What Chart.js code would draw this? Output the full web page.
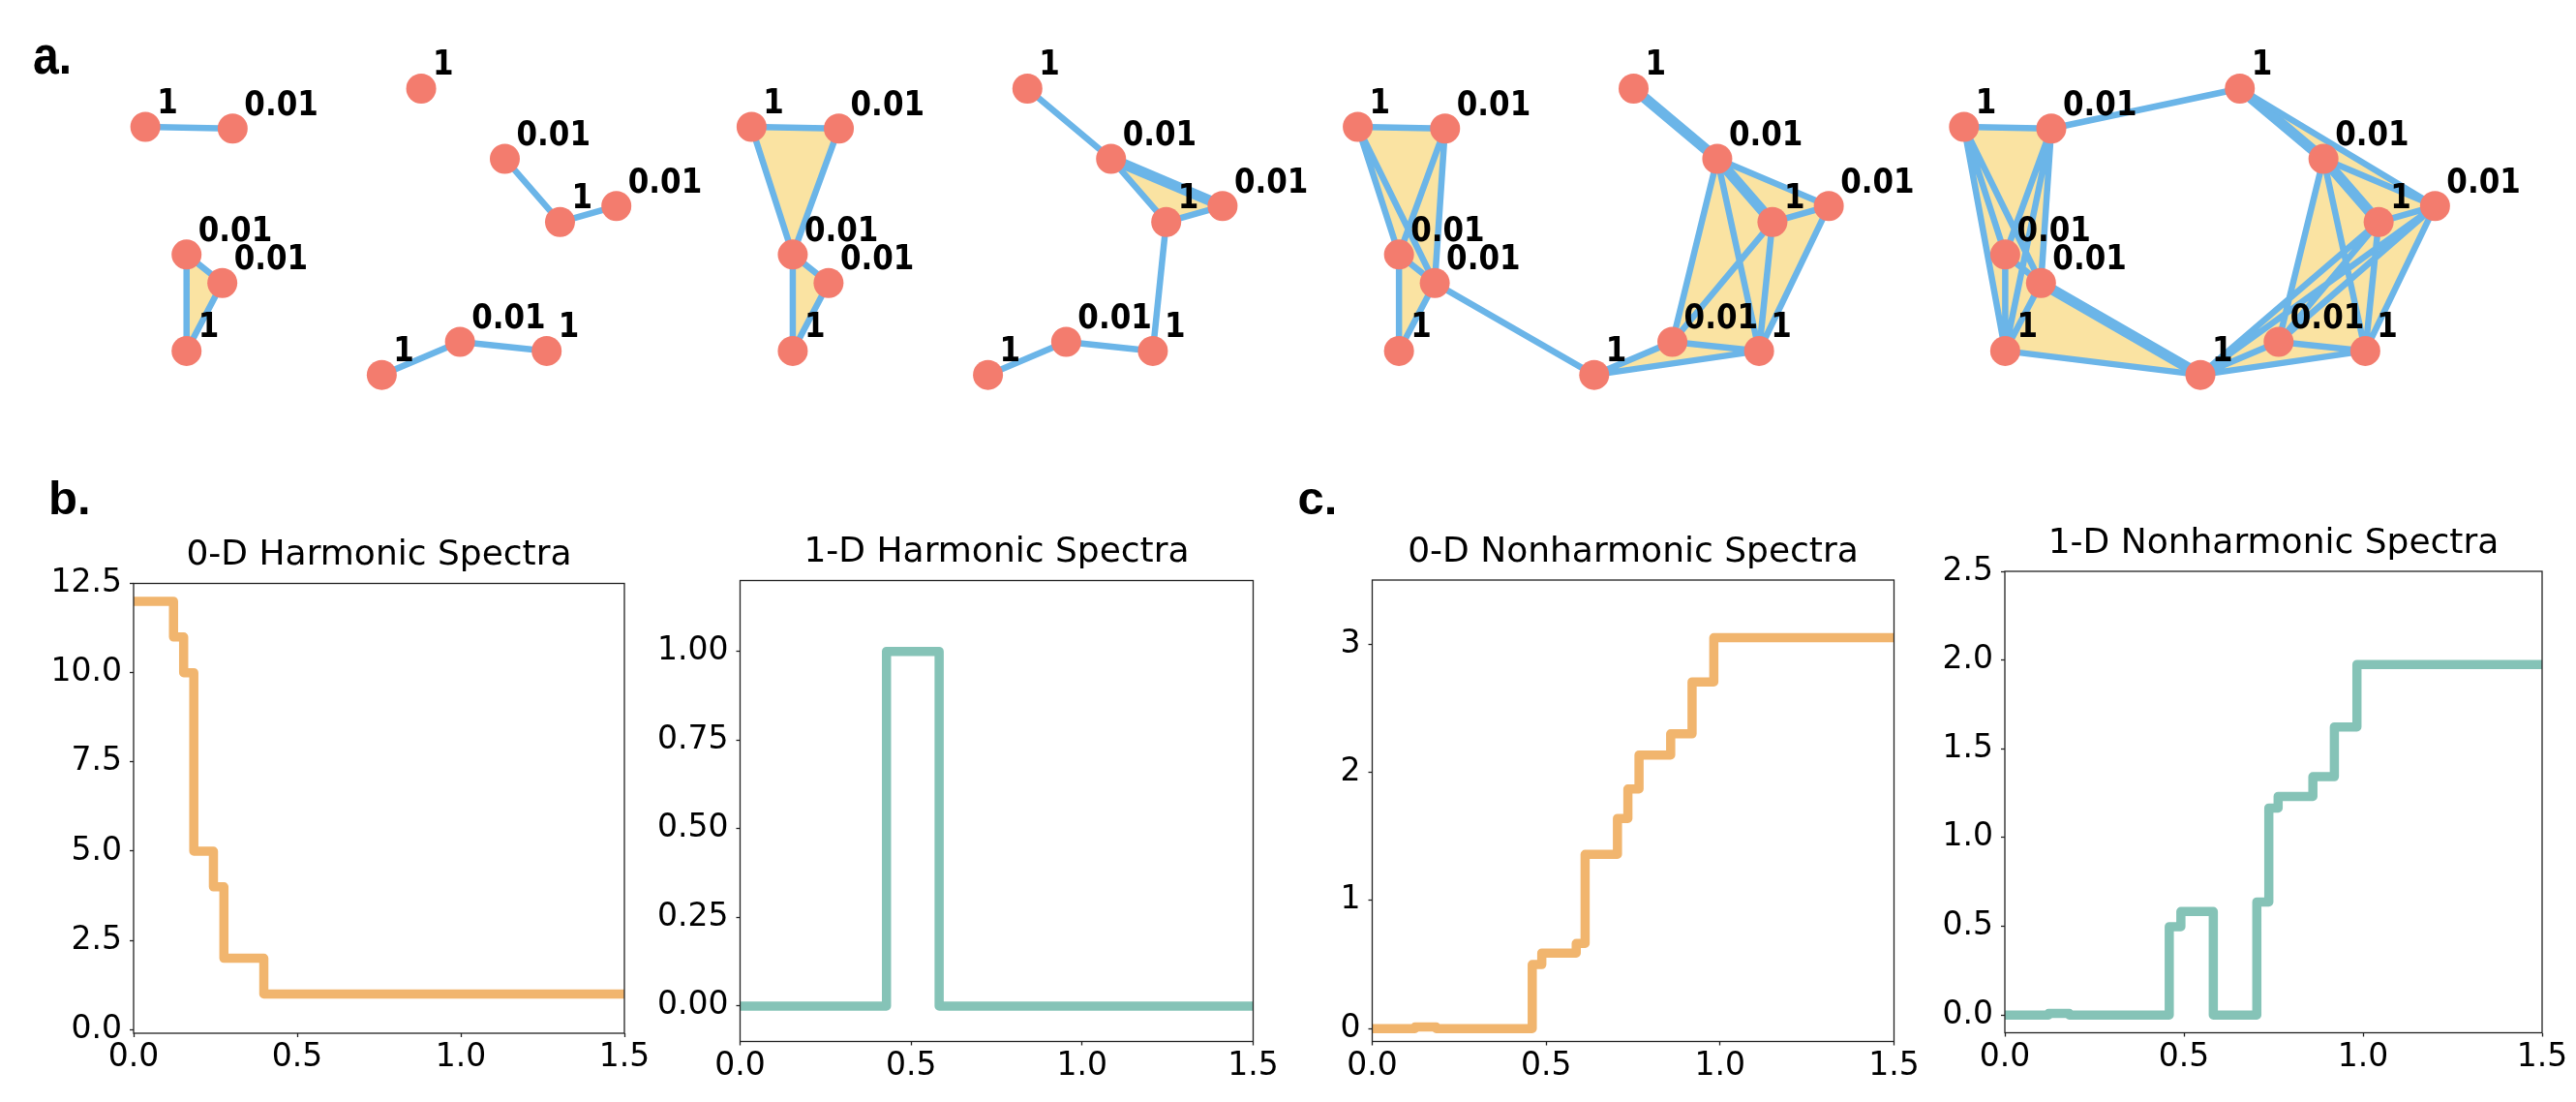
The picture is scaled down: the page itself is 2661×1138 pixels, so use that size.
<!DOCTYPE html>
<html>
<head>
<meta charset="utf-8">
<script src="https://cdn.jsdelivr.net/npm/chart.js@4.4.1/dist/chart.umd.min.js"></script>
<style>
  html, body { margin: 0; padding: 0; background: #fff; }
  #fig { position: relative; width: 2661px; height: 1138px; overflow: hidden; background: #fff; }
  canvas { position: absolute; }
</style>
</head>
<body>
<div id="fig">
  <canvas id="net"></canvas>
  <canvas id="harm0"></canvas>
  <canvas id="harm1"></canvas>
  <canvas id="nonharm0"></canvas>
  <canvas id="nonharm1"></canvas>
</div>
<script>
// colours
const ORANGE = 'rgb(241,181,110)';
const TEAL = 'rgb(133,195,183)';
const NODE = 'rgb(243,124,110)';
const EDGE = 'rgb(107,181,232)';
const FACE = 'rgb(250,227,162)';

// ---- panel a: the same 12 nodes in 4 filtration steps (layout units, 1 = panel spacing)
const nodeX = [0.215, 0.359, 0.283, 0.342, 0.283, 0.670, 0.808, 0.899, 0.992, 0.605, 0.734, 0.877];
const nodeY = [0.196, 0.199, 0.420, 0.470, 0.589, 0.129, 0.252, 0.363, 0.335, 0.631, 0.573, 0.589];
const nodeLabels = ['1', '0.01', '0.01', '0.01', '1', '1', '0.01', '1', '0.01', '1', '0.01', '1'];

const panelEdges = [
  [[0,1],[2,3],[2,4],[3,4],[6,7],[7,8],[9,10],[10,11]],
  [[0,1],[0,2],[1,2],[2,3],[2,4],[3,4],[5,6],[6,7],[7,8],[7,11],[9,10],[10,11]],
  [[0,1],[0,2],[0,3],[1,2],[1,3],[2,3],[2,4],[3,4],[3,9],[6,8],[7,8],[6,10],[6,11],[7,10],[7,11],[8,11],[9,10],[9,11],[10,11]],
  [[0,1],[0,2],[0,3],[0,4],[1,2],[1,3],[1,4],[2,3],[2,4],[3,4],[1,5],[4,9],[5,8],[6,8],[7,8],[6,10],[6,11],[7,9],[7,10],[7,11],[8,9],[8,10],[8,11],[9,10],[9,11],[10,11]]
];
const panelHeavyEdges = [
  [],
  [[6,8]],
  [[5,6],[6,7]],
  [[5,6],[6,7],[3,9]]
];
const panelFaces = [
  [[2,3,4]],
  [[0,1,2],[2,3,4],[6,7,8]],
  [[0,1,2],[0,1,3],[0,2,3],[1,2,3],[2,3,4],[6,7,8],[6,10,11],[6,7,11],[7,8,11],[7,10,11],[9,10,11]],
  [[0,1,2],[0,1,3],[0,1,4],[0,2,3],[0,2,4],[0,3,4],[1,2,3],[1,3,4],[2,3,4],[3,4,9],
   [5,6,8],[6,7,8],[6,10,11],[6,8,11],[7,9,10],[7,9,11],[8,9,11],[9,10,11],[7,10,11]]
];

// ---- panels b / c: step spectra
const xTicks = [0, 0.5, 1.0, 1.5];
const xTickLabels = ['0.0', '0.5', '1.0', '1.5'];

const harm0X = [0, 0.122, 0.153, 0.184, 0.244, 0.276, 0.398, 1.5];
const harm0Y = [12, 11, 10, 5, 4, 2, 1, 1];
const harm0Ticks = [0, 2.5, 5, 7.5, 10, 12.5];
const harm0TickLabels = ['0.0', '2.5', '5.0', '7.5', '10.0', '12.5'];

const harm1X = [0, 0.428, 0.582, 1.5];
const harm1Y = [0, 1, 0, 0];
const harm1Ticks = [0, 0.25, 0.5, 0.75, 1.0];
const harm1TickLabels = ['0.00', '0.25', '0.50', '0.75', '1.00'];

const nonharm0X = [0, 0.123, 0.184, 0.46, 0.4875, 0.5865, 0.612, 0.705, 0.735, 0.767, 0.858, 0.9195, 0.982, 1.5];
const nonharm0Y = [0, 0.013, 0, 0.5, 0.59, 0.665, 1.36, 1.64, 1.87, 2.135, 2.30, 2.705, 3.05, 3.05];
const nonharm0Ticks = [0, 1, 2, 3];
const nonharm0TickLabels = ['0', '1', '2', '3'];

const nonharm1X = [0, 0.122, 0.18, 0.459, 0.4915, 0.582, 0.7035, 0.737, 0.763, 0.86, 0.92, 0.983, 1.5];
const nonharm1Y = [0, 0.009, 0, 0.498, 0.583, 0, 0.637, 1.166, 1.232, 1.343, 1.623, 1.975, 1.975];
const nonharm1Ticks = [0, 0.5, 1.0, 1.5, 2.0, 2.5];
const nonharm1TickLabels = ['0.0', '0.5', '1.0', '1.5', '2.0', '2.5'];

// ---------------------------------------------------------------- network chart
const UNIT = 633.6; // pixels per layout unit
const netCanvas = document.getElementById('net');
netCanvas.width = 2661; netCanvas.height = 440;
netCanvas.style.left = '0px'; netCanvas.style.top = '0px';

const pt = (p, i) => ({ x: p + nodeX[i], y: nodeY[i] });

const netSets = [];
panelFaces.forEach((faces, p) => {
  faces.forEach(f => {
    netSets.push({
      data: [pt(p, f[0]), pt(p, f[1]), pt(p, f[2]), pt(p, f[0])],
      fill: 'shape', backgroundColor: FACE, borderColor: FACE, borderWidth: 1,
      pointRadius: 0, order: 3
    });
  });
});
function edgeData(p, list) {
  const out = [];
  list.forEach(e => { out.push(pt(p, e[0]), pt(p, e[1]), { x: p + nodeX[e[1]], y: null }); });
  return out;
}
panelEdges.forEach((list, p) => {
  netSets.push({ data: edgeData(p, list), borderColor: EDGE, borderWidth: 6.5, pointRadius: 0, fill: false, spanGaps: false, order: 2 });
});
panelHeavyEdges.forEach((list, p) => {
  if (list.length) netSets.push({ data: edgeData(p, list), borderColor: EDGE, borderWidth: 11, pointRadius: 0, fill: false, spanGaps: false, order: 2 });
});
const allNodes = [];
for (let p = 0; p < 4; p++) for (let i = 0; i < nodeX.length; i++) allNodes.push(pt(p, i));
netSets.push({
  data: allNodes, showLine: false, pointRadius: 15.5, pointBackgroundColor: NODE,
  pointBorderWidth: 0, pointBorderColor: NODE, order: 1
});

const nodeLabelPlugin = {
  id: 'nodeLabels',
  afterDraw(chart) {
    const ctx = chart.ctx;
    const meta = chart.getDatasetMeta(chart.data.datasets.length - 1);
    ctx.save();
    ctx.fillStyle = '#000';
    ctx.textAlign = 'left';
    ctx.textBaseline = 'alphabetic';
    ctx.font = 'bold 31px "DejaVu Sans"';
    meta.data.forEach((el, k) => {
      ctx.save();
      ctx.translate(el.x + 12, el.y - 14);
      ctx.scale(1, 1.12);
      ctx.fillText(nodeLabels[k % nodeLabels.length], 0, 0);
      ctx.restore();
    });
    // panel letter
    ctx.font = 'bold 48px "Liberation Sans"';
    ctx.translate(34, 76);
    ctx.scale(1, 1.15);
    ctx.fillText('a.', 0, 0);
    ctx.restore();
  }
};

new Chart(netCanvas, {
  type: 'line',
  data: { datasets: netSets },
  options: {
    responsive: false, animation: false, events: [], devicePixelRatio: 1,
    layout: { padding: 0 },
    plugins: { legend: { display: false }, tooltip: { enabled: false } },
    scales: {
      x: { type: 'linear', display: false, min: 0, max: 2661 / UNIT },
      y: { type: 'linear', display: false, reverse: true, min: 0, max: 440 / UNIT }
    }
  },
  plugins: [nodeLabelPlugin]
});

// ---------------------------------------------------------------- spectra charts
function framePlugin(title, letter) {
  return {
    id: 'frame',
    afterDraw(chart) {
      const { ctx, chartArea: a } = chart;
      ctx.save();
      ctx.strokeStyle = '#222';
      ctx.lineWidth = 1.3;
      ctx.strokeRect(a.left, a.top, a.right - a.left, a.bottom - a.top);
      ctx.fillStyle = '#000';
      ctx.font = '36px "DejaVu Sans"';
      ctx.textAlign = 'center';
      ctx.textBaseline = 'alphabetic';
      ctx.fillText(title, (a.left + a.right) / 2, a.top - 19.5);
      if (letter) {
        ctx.font = 'bold 49px "Liberation Sans"';
        ctx.textAlign = 'left';
        ctx.fillText(letter.text, letter.x, letter.y);
      }
      ctx.restore();
    }
  };
}

function makeSpectrum(o) {
  const c = document.getElementById(o.id);
  const top = 440, height = 698;
  c.width = o.width; c.height = height;
  c.style.left = o.left + 'px'; c.style.top = top + 'px';
  const tickFont = { family: 'DejaVu Sans', size: 33 };
  const gridOpts = { drawOnChartArea: false, drawTicks: true, tickLength: 4, tickWidth: 1.3, tickColor: '#222', color: '#222' };
  new Chart(c, {
    type: 'line',
    data: {
      datasets: [{
        data: o.xs.map((x, i) => ({ x: x, y: o.ys[i] })),
        stepped: 'before',
        borderColor: o.color, borderWidth: 9.5,
        borderJoinStyle: 'round', borderCapStyle: 'butt',
        pointRadius: 0, fill: false, clip: 0
      }]
    },
    options: {
      responsive: false, animation: false, events: [], devicePixelRatio: 1,
      layout: { padding: { top: o.plotTop - top, right: o.left + o.width - o.plotRight, left: 0, bottom: 0 } },
      plugins: { legend: { display: false }, tooltip: { enabled: false } },
      scales: {
        x: {
          type: 'linear', min: 0, max: 1.5,
          afterFit: s => { s.height = top + height - o.plotBottom; },
          afterBuildTicks: s => { s.ticks = xTicks.map(v => ({ value: v })); },
          ticks: { callback: (v, i) => xTickLabels[i], font: tickFont, color: '#000', padding: 2, maxRotation: 0, autoSkip: false },
          grid: gridOpts,
          border: { display: false }
        },
        y: {
          type: 'linear', min: o.yMin, max: o.yMax,
          afterFit: s => { s.width = o.plotLeft - o.left; },
          afterBuildTicks: s => { s.ticks = o.yTicks.map(v => ({ value: v })); },
          ticks: { callback: (v, i) => o.yTickLabels[i], font: tickFont, color: '#000', padding: 8, autoSkip: false },
          grid: gridOpts,
          border: { display: false }
        }
      }
    },
    plugins: [framePlugin(o.title, o.letter)]
  });
}

makeSpectrum({
  id: 'harm0', left: 0, width: 700,
  plotLeft: 138, plotRight: 645, plotTop: 602.5, plotBottom: 1067,
  xs: harm0X, ys: harm0Y, color: ORANGE, yMin: -0.1, yMax: 12.5,
  yTicks: harm0Ticks, yTickLabels: harm0TickLabels,
  title: '0-D Harmonic Spectra', letter: { text: 'b.', x: 50, y: 91 }
});
makeSpectrum({
  id: 'harm1', left: 660, width: 680,
  plotLeft: 764.5, plotRight: 1294.5, plotTop: 599.5, plotBottom: 1075.5,
  xs: harm1X, ys: harm1Y, color: TEAL, yMin: -0.1, yMax: 1.2,
  yTicks: harm1Ticks, yTickLabels: harm1TickLabels,
  title: '1-D Harmonic Spectra'
});
makeSpectrum({
  id: 'nonharm0', left: 1300, width: 690,
  plotLeft: 1417.5, plotRight: 1956.5, plotTop: 599, plotBottom: 1075.5,
  xs: nonharm0X, ys: nonharm0Y, color: ORANGE, yMin: -0.1, yMax: 3.5,
  yTicks: nonharm0Ticks, yTickLabels: nonharm0TickLabels,
  title: '0-D Nonharmonic Spectra', letter: { text: 'c.', x: 40.5, y: 91 }
});
makeSpectrum({
  id: 'nonharm1', left: 1990, width: 671,
  plotLeft: 2071, plotRight: 2626, plotTop: 590, plotBottom: 1066.5,
  xs: nonharm1X, ys: nonharm1Y, color: TEAL, yMin: -0.1, yMax: 2.5,
  yTicks: nonharm1Ticks, yTickLabels: nonharm1TickLabels,
  title: '1-D Nonharmonic Spectra'
});
</script>
</body>
</html>
